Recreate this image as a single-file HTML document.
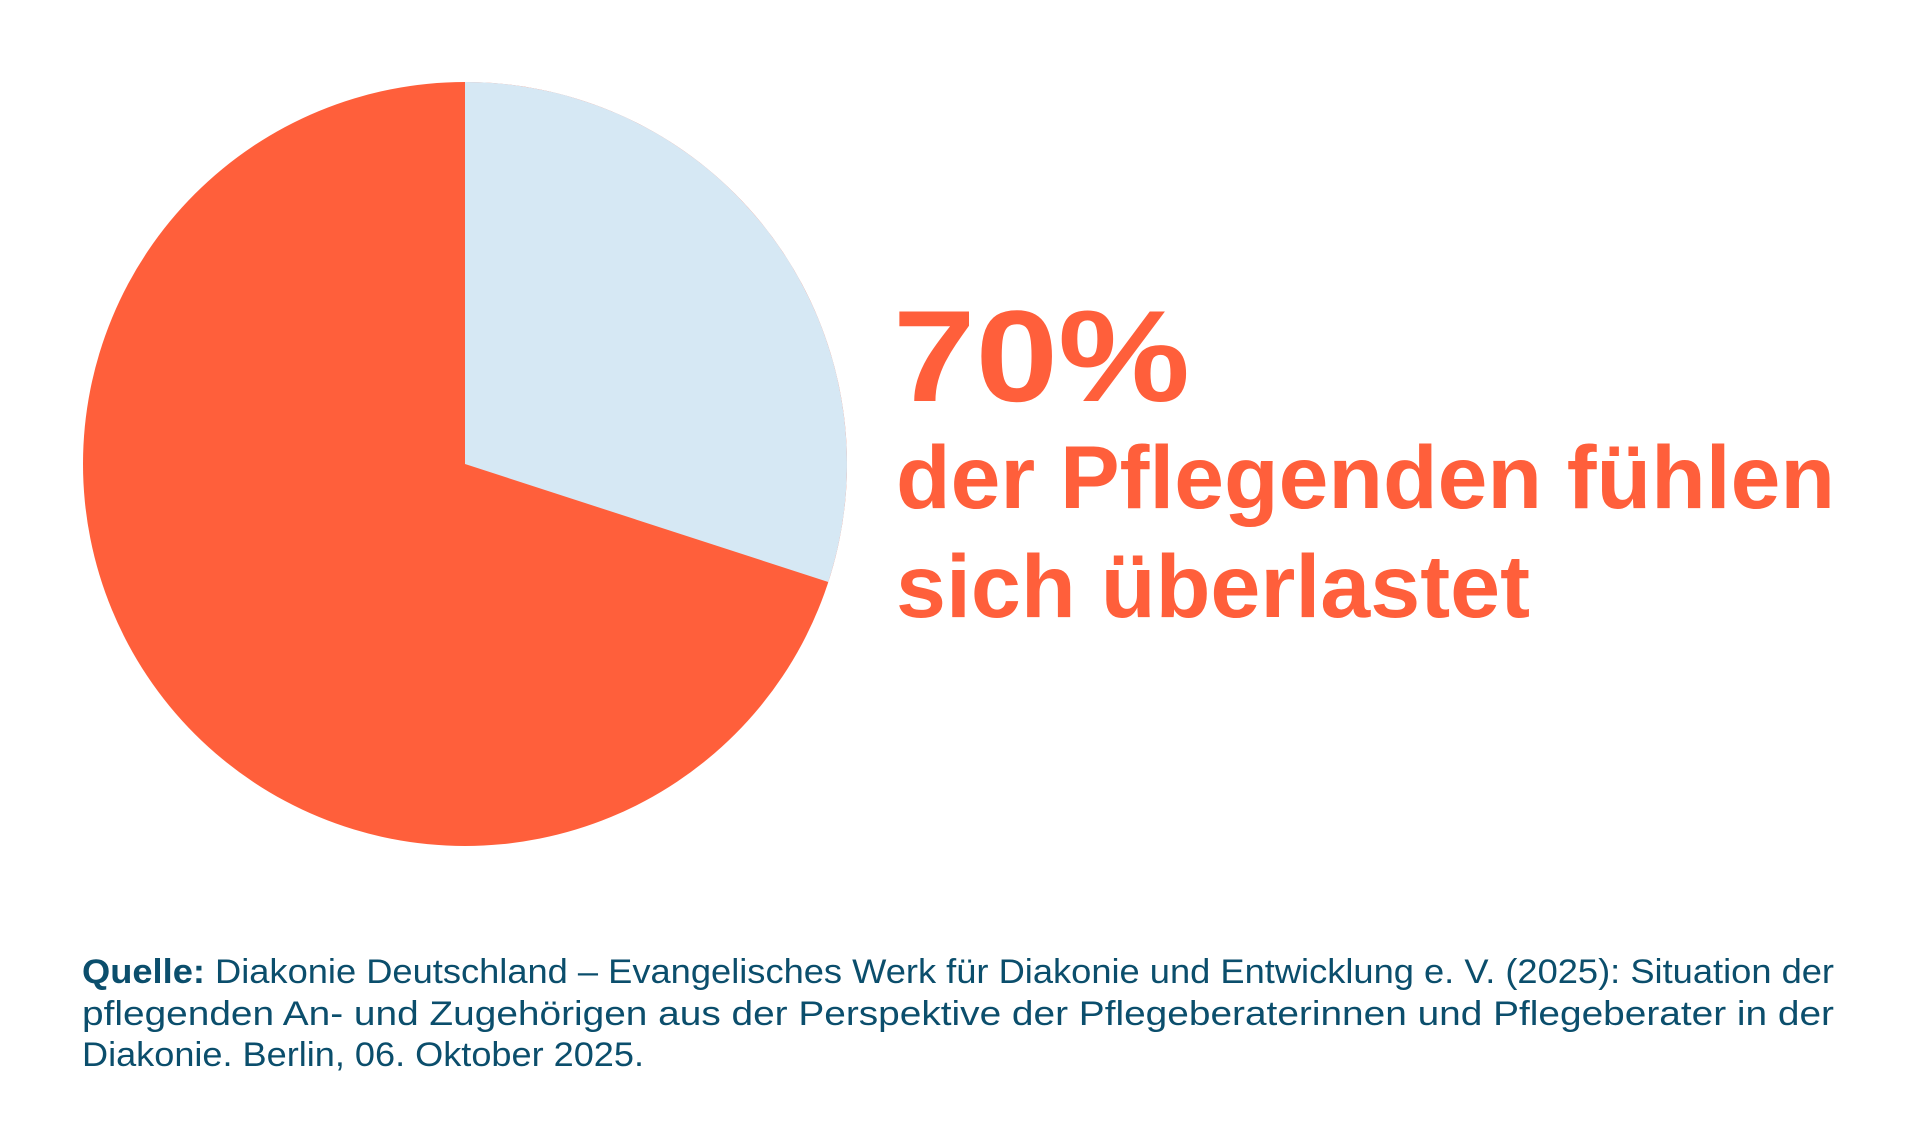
<!DOCTYPE html>
<html>
<head>
<meta charset="utf-8">
<style>
  html, body { margin: 0; padding: 0; background: #ffffff; }
  body { width: 1920px; height: 1138px; overflow: hidden; }
  svg { display: block; }
  .h { font-family: "Liberation Sans", Arial, sans-serif; font-weight: bold; fill: #FF5F3B; }
  .f { font-family: "Liberation Sans", Arial, sans-serif; fill: #0B4E6C; font-size: 34px; }
</style>
</head>
<body>
<svg width="1920" height="1138" viewBox="0 0 1920 1138" xmlns="http://www.w3.org/2000/svg">
  <rect x="0" y="0" width="1920" height="1138" fill="#ffffff"/>
  <!-- Pie -->
  <circle cx="465" cy="464" r="382" fill="#FF5F3B"/>
  <path d="M465,464 L465,82 A382,382 0 0,1 828.3,582 Z" fill="#D6E8F4"/>

  <!-- Headline -->
  <text class="h" x="893" y="401" font-size="130" textLength="297" lengthAdjust="spacingAndGlyphs">70%</text>
  <text class="h" x="896" y="508" font-size="89" textLength="939" lengthAdjust="spacingAndGlyphs">der Pflegenden fühlen</text>
  <text class="h" x="896" y="617" font-size="89" textLength="634" lengthAdjust="spacingAndGlyphs">sich überlastet</text>

  <!-- Footer -->
  <text class="f" x="82" y="983" textLength="1752" lengthAdjust="spacingAndGlyphs"><tspan font-weight="bold">Quelle:</tspan> Diakonie Deutschland – Evangelisches Werk für Diakonie und Entwicklung e. V. (2025): Situation der</text>
  <text class="f" x="82" y="1025" textLength="1752" lengthAdjust="spacingAndGlyphs">pflegenden An- und Zugehörigen aus der Perspektive der Pflegeberaterinnen und Pflegeberater in der</text>
  <text class="f" x="82" y="1066" textLength="562" lengthAdjust="spacingAndGlyphs">Diakonie. Berlin, 06. Oktober 2025.</text>
</svg>
</body>
</html>
